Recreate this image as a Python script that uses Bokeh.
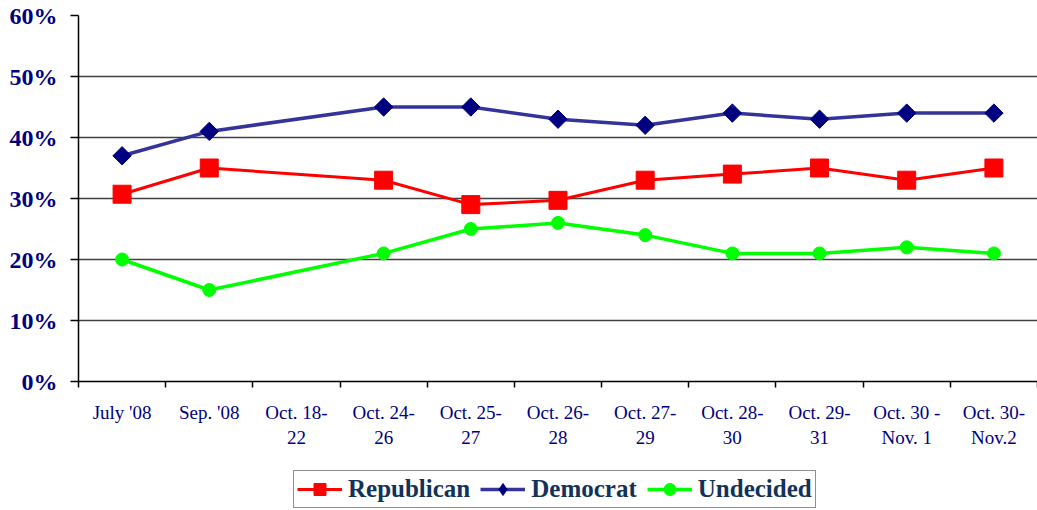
from bokeh.plotting import figure
from bokeh.layouts import column
from bokeh.models import Range1d, FixedTicker, Legend, LegendItem
from bokeh.embed import file_html
from bokeh.resources import INLINE

categories = ["July '08", "Sep. '08", "Oct. 18-\n22", "Oct. 24-\n26", "Oct. 25-\n27",
              "Oct. 26-\n28", "Oct. 27-\n29", "Oct. 28-\n30", "Oct. 29-\n31",
              "Oct. 30 -\nNov. 1", "Oct. 30-\nNov.2"]
republican = [30.7, 35, None, 33, 29, 29.7, 33, 34, 35, 33, 35]
democrat = [37, 41, None, 45, 45, 43, 42, 44, 43, 44, 44]
undecided = [20, 15, None, 21, 25, 26, 24, 21, 21, 22, 21]
y_ticks = [0, 10, 20, 30, 40, 50, 60]
y_tick_labels = ["0%", "10%", "20%", "30%", "40%", "50%", "60%"]

n = len(categories)
centers = [i + 0.5 for i in range(n)]
bounds = [float(i) for i in range(n + 1)]

p = figure(width=1037, height=450, output_backend="svg", toolbar_location=None,
           x_range=Range1d(0, n), y_range=Range1d(0, 60),
           min_border_left=78, min_border_top=15, min_border_bottom=68, min_border_right=0)
p.outline_line_color = None
p.background_fill_color = "white"

xa = p.xaxis[0]
xa.ticker = FixedTicker(ticks=centers, minor_ticks=bounds)
xa.major_label_overrides = {c: lab for c, lab in zip(centers, categories)}
xa.major_tick_out = 0
xa.major_tick_in = 0
xa.minor_tick_out = 6
xa.minor_tick_in = 0
xa.minor_tick_line_color = "black"
xa.minor_tick_line_width = 1.5
xa.axis_line_color = "black"
xa.axis_line_width = 1.5
xa.major_label_standoff = 14
xa.major_label_text_font = "Liberation Serif"
xa.major_label_text_font_size = "19px"
xa.major_label_text_color = "#000080"

ya = p.yaxis[0]
ya.ticker = FixedTicker(ticks=y_ticks, minor_ticks=[])
ya.major_label_overrides = {t: l for t, l in zip(y_ticks, y_tick_labels)}
ya.major_tick_out = 8
ya.major_tick_in = 0
ya.major_tick_line_width = 1.5
ya.major_tick_line_color = "black"
ya.axis_line_color = "black"
ya.axis_line_width = 1.5
ya.major_label_standoff = 13
ya.major_label_text_font = "Liberation Serif"
ya.major_label_text_font_style = "bold"
ya.major_label_text_font_size = "24px"
ya.major_label_text_color = "#000080"

p.xgrid.visible = False
p.ygrid.ticker = FixedTicker(ticks=y_ticks[1:])
p.ygrid.grid_line_color = "#404040"
p.ygrid.grid_line_width = 1.5


def pts(vals):
    xs = [c for c, v in zip(centers, vals) if v is not None]
    ys = [v for v in vals if v is not None]
    return xs, ys


styles = {
    "rep_line": dict(line_color="#FF0000", line_width=3),
    "rep_mark": dict(marker="square", size=18, fill_color="#FF0000", line_color="#FF0000"),
    "dem_line": dict(line_color="#333399", line_width=3.5),
    "dem_mark": dict(marker="square", angle=0.785398, size=13, fill_color="#000080", line_color="#000080"),
    "und_line": dict(line_color="#00FF00", line_width=3.5),
    "und_mark": dict(marker="circle", size=13, fill_color="#00FF00", line_color="#00FF00"),
}

rx, ry = pts(republican)
dx, dy = pts(democrat)
ux, uy = pts(undecided)

p.line(rx, ry, **styles["rep_line"])
p.scatter(rx, ry, **styles["rep_mark"])
p.line(dx, dy, **styles["dem_line"])
p.scatter(dx, dy, **styles["dem_mark"])
p.line(ux, uy, **styles["und_line"])
p.scatter(ux, uy, **styles["und_mark"])

# legend strip: same series, drawn out of view so only the legend shows
lg = figure(width=1037, height=60, output_backend="svg", toolbar_location=None,
            x_range=Range1d(0, n), y_range=Range1d(1000, 1001),
            x_axis_type=None, y_axis_type=None,
            min_border_left=78, min_border_right=0, min_border_top=0, min_border_bottom=0)
lg.outline_line_color = None
lg.xgrid.visible = False
lg.ygrid.visible = False
l1 = lg.line(rx, ry, **styles["rep_line"])
m1 = lg.scatter(rx, ry, **styles["rep_mark"])
l2 = lg.line(dx, dy, **styles["dem_line"])
m2 = lg.scatter(dx, dy, marker="diamond", size=18, fill_color="#000080", line_color="#000080")
l3 = lg.line(ux, uy, **styles["und_line"])
m3 = lg.scatter(ux, uy, **styles["und_mark"])

legend = Legend(items=[
    LegendItem(label="Republican", renderers=[l1, m1]),
    LegendItem(label="Democrat", renderers=[l2, m2]),
    LegendItem(label="Undecided", renderers=[l3, m3]),
], orientation="horizontal", location=(215, 2))
legend.label_text_font = "Liberation Serif"
legend.label_text_font_style = "bold"
legend.label_text_font_size = "25px"
legend.label_text_color = "#13325A"
legend.glyph_width = 45
legend.glyph_height = 30
legend.label_standoff = 6
legend.spacing = 10
legend.padding = 3
legend.margin = 0
legend.border_line_color = "#222222"
legend.border_line_width = 1.5
legend.background_fill_alpha = 1.0
lg.add_layout(legend, "center")

layout = column(p, lg, spacing=0)
open("out.html", "w").write(file_html(layout, INLINE))
